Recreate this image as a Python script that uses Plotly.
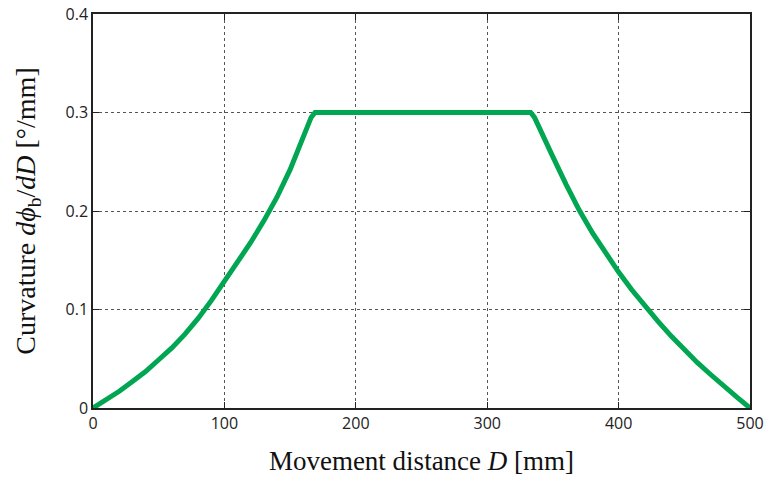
import plotly.graph_objects as go

# Curvature profile along the movement distance
distance_mm = [0, 10, 20, 30, 40, 50, 60, 70, 80, 90, 100, 110, 120, 130, 140, 150,
               158, 163, 166, 169, 200, 250, 300,
               333, 336, 340, 350, 360, 370, 380, 390, 400, 410, 420, 430, 440, 450,
               460, 470, 480, 490, 500]
curvature = [0, 0.008, 0.017, 0.027, 0.037, 0.049, 0.061, 0.075, 0.091, 0.109, 0.128,
             0.148, 0.168, 0.190, 0.214, 0.242, 0.267, 0.285, 0.295, 0.300, 0.300, 0.300,
             0.300,
             0.300, 0.295, 0.283, 0.255, 0.227, 0.201, 0.178, 0.157, 0.138, 0.120,
             0.103, 0.088, 0.073, 0.059, 0.046, 0.034, 0.022, 0.011, 0]

x_ticks = [0, 100, 200, 300, 400, 500]
y_ticks = [0, 0.1, 0.2, 0.3, 0.4]
y_tick_labels = ["0", "0.1", "0.2", "0.3", "0.4"]

fig = go.Figure()
fig.add_trace(go.Scatter(
    x=distance_mm, y=curvature, mode="lines",
    line=dict(color="#00A651", width=5, shape="linear"),
    cliponaxis=False, showlegend=False,
))

axis_common = dict(
    showline=True, linecolor="#222222", linewidth=1.5, mirror="ticks",
    ticks="inside", ticklen=6, tickcolor="#222222",
    showgrid=True, gridcolor="#555555", gridwidth=1, griddash="dot",
    zeroline=False, automargin=False,
    tickfont=dict(family="Open Sans, DejaVu Sans, sans-serif", size=16, color="#222222"),
)

fig.update_xaxes(
    range=[0, 500], tickvals=x_ticks,
    title=dict(text="Movement distance <i>D</i> [mm]",
               font=dict(family="Liberation Serif, serif", size=27, color="#111111"),
               standoff=18),
    **axis_common,
)
fig.update_yaxes(
    range=[0, 0.4], tickvals=y_ticks, ticktext=y_tick_labels,
    title=dict(text="Curvature <i>dϕ</i><sub>b</sub>/<i>dD</i> [°/mm]",
               font=dict(family="Liberation Serif, serif", size=28, color="#111111"),
               standoff=22),
    **axis_common,
)

fig.update_layout(
    width=766, height=477,
    margin=dict(l=93, r=16, t=14, b=69),
    plot_bgcolor="white", paper_bgcolor="white",
)

fig.write_html("out.html")
